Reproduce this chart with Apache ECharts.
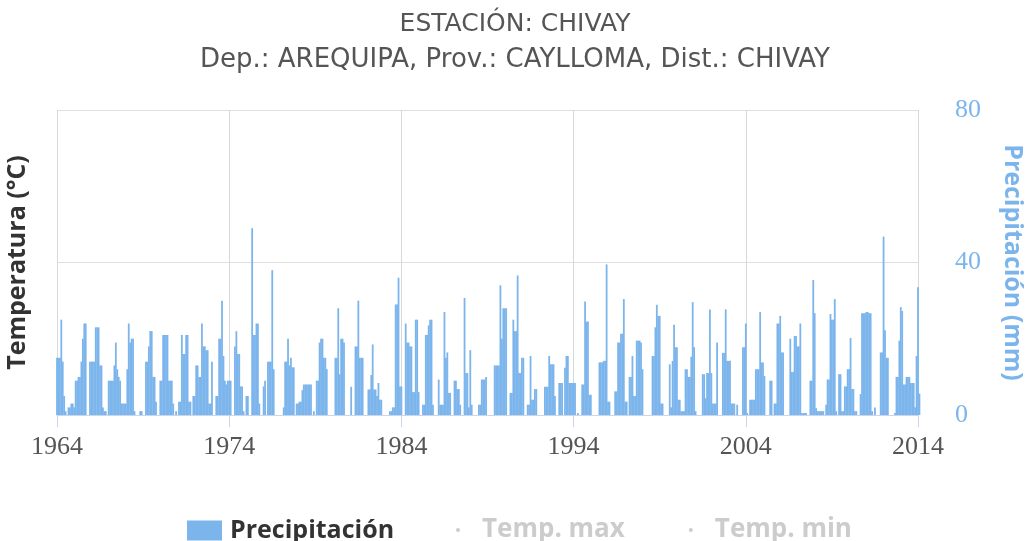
<!DOCTYPE html>
<html>
<head>
<meta charset="utf-8">
<script src="https://cdn.jsdelivr.net/npm/echarts@6/dist/echarts.min.js"></script>
<style>
  html, body { margin: 0; padding: 0; background: #fff; }
  #chart { width: 1030px; height: 541px; }
</style>
</head>
<body>
<div id="chart"></div>
<script>
// precipitación mensual (mm), enero 1964 en adelante, una lista por década
const precip1964 = [
  15, 15, 15, 25, 14, 5, 1, 0, 2, 2, 3, 3,
  2, 9, 9, 10, 10, 14, 20, 24, 24, 0, 0, 14,
  14, 14, 14, 23, 23, 23, 13, 13, 2, 1, 1, 0,
  9, 9, 9, 9, 13, 19, 12, 10, 9, 3, 3, 3,
  3, 12, 24, 19, 20, 20, 1, 0, 0, 0, 1, 1,
  0, 0, 14, 14, 18, 22, 22, 10, 10, 3.5, 0, 0,
  9, 9, 21, 21, 21, 21, 9, 9, 9, 3, 0, 1,
  0, 3.5, 3.5, 21, 16, 16, 21, 21, 3.5, 3.5, 0, 5,
  5, 13, 13, 10, 10, 24, 18, 18, 17, 17, 3, 3,
  14, 0, 0, 5, 5, 20, 20, 30, 15.5, 9, 8, 9
]
const precip1974 = [
  9, 9, 0, 0, 18, 22, 16, 16, 7.5, 7.5, 1, 0,
  5, 5, 0, 0, 49, 21, 21, 24, 24, 3, 0, 0,
  7.5, 9, 0, 14, 14, 14, 38, 12, 0, 0, 0, 0,
  0, 0, 2, 14, 14, 20, 13, 15, 12.5, 12.5, 0, 3,
  3, 3.5, 3.5, 6.5, 8, 8, 8, 8, 8, 8, 0, 1,
  0, 9, 9, 19, 20, 20, 15, 15, 12, 0, 0, 0,
  0, 0, 15, 15, 28, 10.7, 20, 20, 19, 0, 0, 0,
  0, 7.4, 0, 0, 18, 18, 30, 15, 15, 15, 0, 0,
  0, 6.7, 6.7, 10.5, 18.5, 6.7, 6.7, 5, 8.4, 4, 4, 0,
  0, 0, 0, 0, 1, 1, 2, 2, 29, 29, 36, 7.5
]
const precip1984 = [
  7.5, 0, 0, 24, 19, 19, 18, 18, 6, 6, 25, 25,
  6, 0, 0, 2.7, 2.7, 21, 21, 23.5, 25, 25, 2.7, 0,
  0, 0, 9.3, 2.7, 2.7, 2.7, 27, 15, 16.4, 5.8, 5.8, 0,
  0, 9, 9, 6.8, 6.8, 2.7, 0, 0, 30.7, 11, 11, 2,
  17, 2.7, 0, 0, 0, 0, 2.7, 2.7, 9.3, 9.3, 9.3, 10,
  0, 0, 0, 0, 0, 13, 13, 13, 13, 34, 20, 28,
  28, 28, 0, 0, 5.8, 5.8, 25, 22, 22, 36.6, 11, 11,
  15, 15, 0, 0, 2.7, 2.7, 15.5, 4, 4, 6.8, 6.8, 0,
  0, 0, 0, 0, 7.4, 7.4, 7.4, 15.5, 13.3, 13.3, 13.3, 5,
  0, 0, 8.4, 8.4, 8.4, 0, 12.4, 15.5, 15.5, 8.4, 8.4, 8.4
]
const precip1994 = [
  8.4, 8.4, 0, 0.5, 0, 0, 8, 8, 29.8, 24.5, 24.5, 5.3,
  5.3, 0, 0, 0, 0, 0, 13.8, 13.8, 13.8, 14.2, 14.2, 39.5,
  3.5, 3.5, 0, 0, 0, 6.2, 6.2, 19, 19, 21.3, 21.3, 30.4,
  3.5, 3.5, 0, 10, 10, 15.5, 5, 5, 19.5, 19.5, 19.5, 19,
  12, 0, 0, 0, 0, 0, 0, 15.5, 15.5, 23, 28.9, 26,
  26, 3, 3, 0, 0, 0, 0, 13.3, 2, 14.2, 23.7, 17.8,
  17.8, 4, 4, 1, 1, 1, 12, 12, 10, 10, 15.3, 29.6,
  17.8, 1, 0, 0, 0, 0, 10.7, 10.7, 4.4, 11, 11, 27.7,
  11, 3, 3, 3, 19, 0, 0, 0, 16.3, 16.3, 27.7, 14.2,
  14.2, 14.2, 3, 3, 3, 0, 2.7, 0, 0, 0, 17.8, 17.8
]
const precip2004 = [
  24, 0.5, 0, 4, 4, 4, 4, 12, 12, 12, 27, 13.8,
  13.8, 10.2, 0, 0, 0, 9, 9, 0, 3, 3, 24, 24,
  26, 16.4, 16.4, 0, 0, 0, 0, 20, 11.3, 11.3, 20.7, 20.7,
  18, 18, 24, 0.5, 0.5, 0.5, 0.5, 0, 0, 9, 9, 35.4,
  26.7, 1.8, 1, 1, 1, 1, 1, 0, 2.7, 9.3, 9.3, 26.5,
  25, 25, 30.4, 1, 0, 10.7, 10.7, 1, 1, 7.5, 7.5, 12,
  12, 20.2, 6.8, 6.8, 1, 1, 0, 0, 5.5, 26.7, 26.7, 26.7,
  27, 27, 26.7, 26.7, 1, 0, 2, 0, 0, 0, 16.4, 16.4,
  46.8, 22.2, 15, 15, 0, 0, 0, 0, 0.5, 10, 10, 19.5,
  28.3, 27.3, 8, 8, 10, 10, 10, 8.4, 8.4, 8.4, 2, 15.5
]
const precip2014 = [33.5, 5.6]

// las series de temperatura están ocultas en el gráfico
const tempMax = []
const tempMin = []

const yearTicks = [1964, 1974, 1984, 1994, 2004, 2014]
const precipTicks = [0, 40, 80]

const monthly = [].concat(precip1964, precip1974, precip1984, precip1994, precip2004, precip2014)
const precipData = monthly.map((v, i) => [yearTicks[0] + i / 12, v])

const blue = '#7cb5ec'
const chart = echarts.init(document.getElementById('chart'))

chart.setOption({
  animation: false,
  title: [
    {
      text: 'ESTACIÓN: CHIVAY',
      left: 'center',
      top: 7,
      textStyle: { fontFamily: 'DejaVu Sans', fontWeight: 'normal', fontSize: 25, color: '#555' }
    },
    {
      text: 'Dep.: AREQUIPA, Prov.: CAYLLOMA, Dist.: CHIVAY',
      left: 'center',
      top: 42,
      textStyle: { fontFamily: 'DejaVu Sans', fontWeight: 'normal', fontSize: 26, color: '#555' }
    }
  ],
  legend: [
    {
      data: ['Precipitación'],
      left: 182,
      top: 513,
      icon: 'rect',
      itemWidth: 35,
      itemHeight: 20,
      textStyle: { fontFamily: 'Open Sans', fontWeight: 'bold', fontSize: 25, color: '#333', padding: [0, 0, 0, 3] }
    },
    {
      data: [{ name: 'Temp. max', icon: 'circle' }, { name: 'Temp. min', icon: 'circle' }],
      left: 451,
      top: 512,
      itemWidth: 4,
      itemHeight: 4,
      itemGap: 64,
      inactiveColor: '#ccc',
      selected: { 'Temp. max': false, 'Temp. min': false },
      textStyle: { fontFamily: 'Open Sans', fontWeight: 'bold', fontSize: 26, color: '#333', padding: [0, 0, 0, 17] }
    }
  ],
  grid: { left: 57, right: 112, top: 110, bottom: 126, outerBoundsMode: 'none' },
  xAxis: {
    type: 'value',
    min: yearTicks[0],
    max: yearTicks[yearTicks.length - 1],
    interval: 10,
    axisLine: { lineStyle: { color: '#ccd6eb' } },
    axisTick: { show: true, length: 12, lineStyle: { color: '#ccd6eb' } },
    axisLabel: {
      formatter: v => String(v),
      color: '#555',
      fontFamily: 'Liberation Serif',
      fontSize: 26,
      margin: 19
    },
    splitLine: { show: true, lineStyle: { color: '#d8d8d8' } }
  },
  yAxis: [
    {
      type: 'value',
      position: 'left',
      name: 'Temperatura (°C)',
      nameLocation: 'middle',
      nameRotate: 90,
      nameGap: 27,
      nameTextStyle: { fontFamily: 'Open Sans', fontWeight: 'bold', fontSize: 25, color: '#333' },
      axisLine: { show: false },
      axisTick: { show: false },
      axisLabel: { show: false },
      splitLine: { show: false }
    },
    {
      type: 'value',
      position: 'right',
      min: precipTicks[0],
      max: precipTicks[2],
      interval: precipTicks[1],
      name: 'Precipitación (mm)',
      nameLocation: 'middle',
      nameRotate: -90,
      nameGap: 82,
      nameTextStyle: { fontFamily: 'Open Sans', fontWeight: 'bold', fontSize: 25, color: blue },
      axisLine: { show: false },
      axisTick: { show: false },
      axisLabel: { color: blue, fontFamily: 'Liberation Serif', fontSize: 26, margin: 37 },
      splitLine: { show: true, lineStyle: { color: '#e0e0e0' } }
    }
  ],
  series: [
    {
      name: 'Precipitación',
      type: 'bar',
      yAxisIndex: 1,
      barWidth: 1.8,
      clip: false,
      itemStyle: { color: blue },
      data: precipData
    },
    { name: 'Temp. max', type: 'line', yAxisIndex: 0, data: tempMax },
    { name: 'Temp. min', type: 'line', yAxisIndex: 0, data: tempMin }
  ]
})
</script>
</body>
</html>
